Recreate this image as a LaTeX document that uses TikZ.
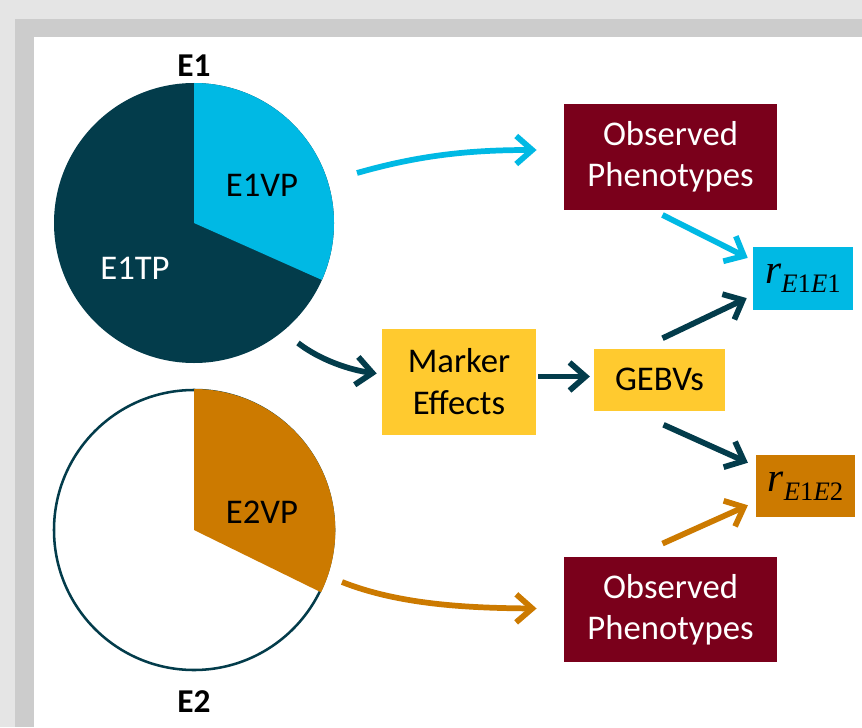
\documentclass[tikz,border=0pt]{standalone}
\usepackage{fontspec}
\setmainfont{Carlito}
\newfontfamily\rfont{Liberation Serif}
\usetikzlibrary{arrows.meta,calc}
\definecolor{bgA}{HTML}{E5E5E5}
\definecolor{bgB}{HTML}{CCCCCC}
\definecolor{tealD}{HTML}{033C4B}
\definecolor{cyanL}{HTML}{00B9E4}
\definecolor{redD}{HTML}{7A001B}
\definecolor{yelL}{HTML}{FFCA2F}
\definecolor{oraD}{HTML}{CC7A00}
\newcommand{\rsym}[1]{{\rfont\fontsize{31}{31}\selectfont\itshape r}\raisebox{-7pt}{\rfont\fontsize{20}{22}\selectfont\itshape E\upshape 1\itshape E\upshape #1}}
\tikzset{
  box/.style={inner sep=0pt, align=center, font=\fontsize{26}{31}\selectfont},
  obsbox/.style={box, fill=redD, text=white, minimum width=160pt, minimum height=79pt},
  yelbox/.style={box, fill=yelL, text=black},
  rbox/.style={box, text=black},
  lbl/.style={inner sep=0pt, font=\fontsize{26}{31}\selectfont},
  elbl/.style={inner sep=0pt, font=\fontsize{25}{29}\selectfont\bfseries},
  arr/.style={line width=4.3pt, -{Straight Barb[length=12pt,width=21pt]}},
}
\begin{document}
\begin{tikzpicture}[x=0.75pt,y=-0.75pt]
\useasboundingbox (0,0) rectangle (862,727);
\fill[bgA] (0,0) rectangle (862,727);
\fill[bgB] (15,19) rectangle (862,727);
\fill[white] (34,37) rectangle (862,727);

% pie E1
\fill[tealD] (194,223) circle[radius=105pt];
\fill[cyanL] (194,223) -- ++(0,-140) arc[start angle=90, end angle=-24, radius=105pt] -- cycle;
% pie E2
\draw[tealD, line width=1.9pt, fill=white] (194,530) circle[radius=105pt];
\fill[oraD] (194,530) -- ++(0,-141) arc[start angle=90, end angle=-26, radius=106pt] -- cycle;

\node[elbl] (e1) at (194,66) {E1};
\node[elbl] (e2) at (194,702) {E2};
\node[lbl] (e1vp) at (262,185) {E1VP};
\node[lbl, text=white] (e1tp) at (135,268) {E1TP};
\node[lbl] (e2vp) at (262,512) {E2VP};

\node[obsbox] (obs1) at (670.5,157) {Observed\\Phenotypes};
\node[obsbox] (obs2) at (670.5,609.5) {Observed\\Phenotypes};
\node[yelbox, minimum width=115.5pt, minimum height=79.5pt] (me) at (459,381.5) {Marker\\Effects};
\node[yelbox, minimum width=98pt, minimum height=46.5pt] (gebv) at (659.5,379.5) {GEBVs};
\node[rbox, fill=cyanL, minimum width=75pt, minimum height=47pt] (r11) at (803,278.5) {\rsym{1}};
\node[rbox, fill=oraD, minimum width=74pt, minimum height=46.5pt] (r12) at (805.5,486) {\rsym{2}};

\coordinate (c1) at (357,173);
\coordinate (c2) at (298,343);
\coordinate (c3) at (342,582);

\draw[arr, cyanL] (c1) .. controls (420,155) and (470,150) .. ($(obs1.west)+(-27,-7)$);
\draw[arr, tealD] (c2) .. controls (320,360) and (350,370) .. ($(me.west)+(-5,-8)$);
\draw[arr, oraD] (c3) .. controls (400,605) and (470,608) .. ($(obs2.west)+(-27,-1)$);
\draw[arr, tealD] ($(me.east)+(2,-5)$) -- ($(gebv.west)+(-4,-3)$);
\draw[arr, cyanL] ($(obs1.south)+(-8,5)$) -- ($(r11.north west)+(-5,11)$);
\draw[arr, tealD] ($(gebv.north)+(3,-10)$) -- ($(r11.south west)+(-6,-12)$);
\draw[arr, tealD] ($(gebv.south)+(4,14)$) -- ($(r12.north west)+(-8,8)$);
\draw[arr, oraD] ($(obs2.north)+(-8,-13)$) -- ($(r12.south west)+(-8,-12)$);
\end{tikzpicture}
\end{document}
